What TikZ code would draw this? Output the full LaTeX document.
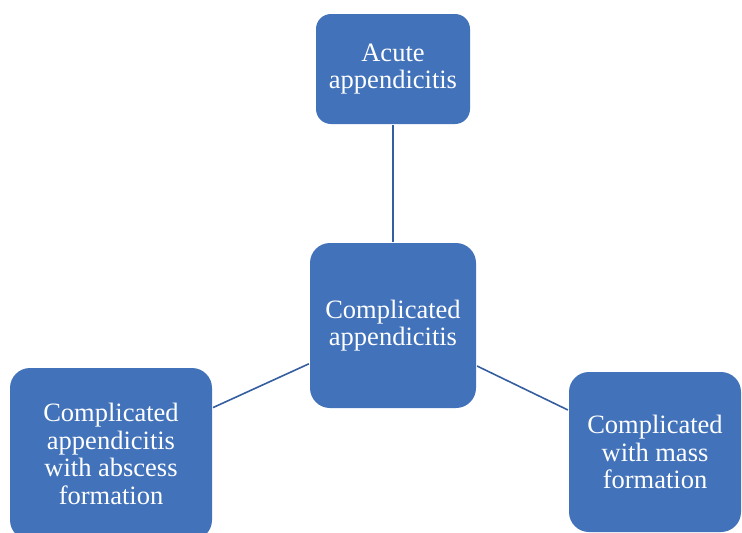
\documentclass[tikz,border=0pt]{standalone}
\usepackage{fontspec}
\setmainfont{Liberation Serif}
\usepackage{xcolor}
\usetikzlibrary{positioning}
\definecolor{apbox}{HTML}{4272BA}
\definecolor{apline}{HTML}{345E9F}

\begin{document}
\begin{tikzpicture}[
    x=1pt, y=-1pt,
    stage/.style={
      rectangle, rounded corners=20pt, fill=apbox, draw=none,
      text=white, font=\fontsize{26.5}{27.5}\selectfont, align=center,
      inner sep=0pt, execute at begin node={\vspace*{5pt}}
    },
    link/.style={apline, line width=1.6pt, shorten <=1pt, shorten >=1pt},
  ]
  \useasboundingbox (0,0) rectangle (742,533);
  \node[stage, rounded corners=15pt, minimum width=154pt, minimum height=110pt] (acute) at (393,69) {Acute\\appendicitis};
  \node[stage, minimum width=166pt, minimum height=165pt] (compl) at (393,325.5) {Complicated\\appendicitis};
  \node[stage, minimum width=202pt, minimum height=172pt] (abscess) at (111,454) {Complicated\\appendicitis\\with abscess\\formation};
  \node[stage, minimum width=172pt, minimum height=160pt] (mass) at (655,452) {Complicated\\with mass\\formation};

  \draw[link] (acute) -- (compl);
  \draw[link] (compl) -- (abscess);
  \draw[link] (compl) -- (mass);
\end{tikzpicture}
\end{document}
